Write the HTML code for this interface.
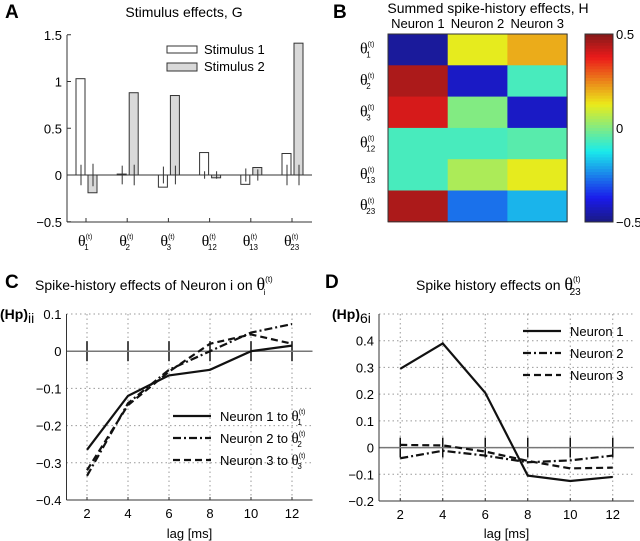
<!DOCTYPE html>
<html><head><meta charset="utf-8"><style>
body{margin:0;background:#fff}
svg{display:block;font-family:"Liberation Sans",sans-serif}
.th{font-family:"Liberation Serif",serif}
</style></head><body>
<svg id="s" width="640" height="541" viewBox="0 0 640 541" xmlns="http://www.w3.org/2000/svg">
<g>
<text x="5" y="18" font-size="19" font-weight="bold">A</text>
<text x="184" y="17" font-size="14" text-anchor="middle">Stimulus effects, G</text>
<g id="gA"></g>
<rect x="167" y="46" width="30" height="7" fill="#fff" stroke="#333"/>
<text x="204" y="54" font-size="13">Stimulus 1</text>
<rect x="167" y="63" width="30" height="8" fill="#d9d9d9" stroke="#333"/>
<text x="204" y="71" font-size="13">Stimulus 2</text>
</g>
<g>
<text x="333" y="18" font-size="19" font-weight="bold">B</text>
<text x="488" y="13" font-size="14" text-anchor="middle">Summed spike-history effects, H</text>
<g id="gB"></g>
</g>
<g>
<text x="5" y="288" font-size="19" font-weight="bold">C</text>
<text x="35" y="290" font-size="14">Spike-history effects of Neuron i on <tspan class="th" font-size="18">θ</tspan><tspan font-size="8" dy="-8">(t)</tspan><tspan font-size="8" dx="-9" dy="13">i</tspan></text>
<text x="0" y="319" font-size="14" font-weight="bold">(Hp)<tspan font-weight="normal" dy="4">ii</tspan></text>
<g id="gC"></g>
</g>
<g>
<text x="325" y="288" font-size="19" font-weight="bold">D</text>
<text x="416" y="290" font-size="14">Spike history effects on <tspan class="th" font-size="18">θ</tspan><tspan font-size="8" dy="-8">(t)</tspan><tspan font-size="10" dx="-11" dy="13">23</tspan></text>
<text x="332" y="319" font-size="14" font-weight="bold">(Hp)<tspan font-weight="normal" dy="4">6i</tspan></text>
<g id="gD"></g>
</g>
</svg>
<script>
// Panel A data
const aCats=["1","2","3","12","13","23"];
const aStim1=[1.03,0.01,-0.13,0.24,-0.1,0.23];
const aStim2=[-0.19,0.88,0.85,-0.03,0.08,1.41];
const aErr1=[0.11,0.1,0.09,0.04,0.07,0.11];
const aErr2=[0.12,0.11,0.1,0.04,0.06,0.11];
const aTicks=[1.5,1,0.5,0,-0.5];
const aTickLabels=["1.5","1","0.5","0","\u22120.5"];
// Panel B data
const bCols=["Neuron 1","Neuron 2","Neuron 3"];
const bRows=["1","2","3","12","13","23"];
const bVals=[[-0.47,0.12,0.2],[0.45,-0.42,-0.07],[0.4,0.0,-0.42],[-0.07,-0.07,-0.05],[-0.07,0.05,0.12],[0.45,-0.27,-0.19]];
// Panel C data
const lags=[2,4,6,8,10,12];
const cN1=[-0.265,-0.12,-0.065,-0.05,0,0.015];
const cN2=[-0.335,-0.14,-0.05,0,0.05,0.073];
const cN3=[-0.32,-0.145,-0.055,0.02,0.045,0.02];
const cTicks=[0.1,0,-0.1,-0.2,-0.3,-0.4];
// Panel D data
const dN1=[0.295,0.39,0.205,-0.105,-0.125,-0.11];
const dN2=[-0.04,-0.012,-0.03,-0.055,-0.048,-0.03];
const dN3=[0.01,0.008,-0.015,-0.05,-0.078,-0.075];
const dTicks=[0.4,0.3,0.2,0.1,0,-0.1,-0.2];

const NS="http://www.w3.org/2000/svg";
function mk(p,t,a){const e=document.createElementNS(NS,t);for(const k in a)e.setAttribute(k,a[k]);p.appendChild(e);return e;}
function fmt(v){return v===0?"0":(v<0?"\u2212":"")+String(Math.abs(v)).replace(/^0\./,"0.");}
function theta(p,x,y,sub,name){
  const t=mk(p,"text",{x:x,y:y,"font-size":14});
  
  
  t.innerHTML='<tspan font-family="Liberation Serif,serif" font-size="16">θ</tspan><tspan font-size="7" dy="-7">(t)</tspan><tspan font-size="8" dx="-8" dy="11">'+sub+'</tspan>';
}
// ---- Panel A
(function(){
  const g=document.getElementById('gA');
  const y=v=>175-v*93.5, xc=i=>86+i*41.2;
  mk(g,"line",{x1:67,y1:35,x2:67,y2:222,stroke:"#333"});
  mk(g,"line",{x1:67,y1:222,x2:312,y2:222,stroke:"#333"});
  aTicks.forEach((v,i)=>{
    mk(g,"line",{x1:67,y1:y(v),x2:71,y2:y(v),stroke:"#333"});
    const t=mk(g,"text",{x:62,y:y(v)+5,"font-size":13,"text-anchor":"end"});t.textContent=aTickLabels[i];
    
    
  });
  aCats.forEach((c,i)=>{
    const x=xc(i);
    mk(g,"line",{x1:x,y1:222,x2:x,y2:218,stroke:"#333"});
    theta(g,x-8,246,c,'a-x-tick-label');
    const b1=mk(g,"rect",{x:x-10,y:Math.min(y(0),y(aStim1[i])),width:9,height:Math.max(1,Math.abs(y(aStim1[i])-y(0))),fill:"#fff",stroke:"#333"});
    
    
    const b2=mk(g,"rect",{x:x+2,y:Math.min(y(0),y(aStim2[i])),width:9,height:Math.max(1,Math.abs(y(aStim2[i])-y(0))),fill:"#d9d9d9",stroke:"#333"});
    
    
    mk(g,"line",{x1:x-5,y1:y(aErr1[i]),x2:x-5,y2:y(-aErr1[i]),stroke:"#333"});
    mk(g,"line",{x1:x+7,y1:y(aErr2[i]),x2:x+7,y2:y(-aErr2[i]),stroke:"#333"});
  });
  mk(g,"line",{x1:67,y1:175,x2:312,y2:175,stroke:"#333"});
})();
// ---- Panel B
function jet(v){
  const t=(v+0.5); // 0..1
  const f=x=>Math.max(0,Math.min(1,x));
  const r=f(1.5-Math.abs(4*t-3)),gg=f(1.5-Math.abs(4*t-2)),b=f(1.5-Math.abs(4*t-1));
  const m=c=>Math.round((c*0.82+0.1)*255);
  return `rgb(${m(r)},${m(gg)},${m(b)})`;
}
(function(){
  const g=document.getElementById('gB');
  const x0=388,y0=34,cw=59.7,rh=31.3;
  bCols.forEach((c,j)=>{const t=mk(g,"text",{x:x0+cw*j+cw/2,y:28,"font-size":13,"text-anchor":"middle"});t.textContent=c;
    
    });
  bVals.forEach((row,i)=>{
    theta(g,360,y0+rh*i+rh/2+4,bRows[i],'b-row-label');
    row.forEach((v,j)=>{
      const r=mk(g,"rect",{x:x0+cw*j,y:y0+rh*i,width:cw+0.5,height:rh+0.5,fill:jet(v)});
      
      
    });
  });
  mk(g,"rect",{x:x0,y:y0,width:cw*3,height:rh*6,fill:"none",stroke:"#333"});
  const n=64,h=188/n;
  for(let k=0;k<n;k++){mk(g,"rect",{x:585,y:34+k*h,width:28,height:h+0.4,fill:jet(0.5-(k+0.5)/n)});}
  mk(g,"rect",{x:585,y:34,width:28,height:188,fill:"none",stroke:"#333"});
  [[0.5,"0.5"],[0,"0"],[-0.5,"\u22120.5"]].forEach(([v,l])=>{const yy=128-v*188;const t=mk(g,"text",{x:616,y:yy+5,"font-size":13});t.textContent=l;
    
    });
})();
// ---- Line panels
function linePanel(id,X0,X1,Ytop,Ybot,vmax,vmin,ticks,series,legend){
  const g=document.getElementById(id);
  const xs=v=>X0+(v-1)/12*(X1-X0), ys=v=>Ytop+(vmax-v)/(vmax-vmin)*(Ybot-Ytop);
  ticks.forEach(v=>{
    if(v!==vmin)mk(g,"line",{x1:X0,y1:ys(v),x2:X1,y2:ys(v),stroke:"#999","stroke-dasharray":"1.5 3"});
    const t=mk(g,"text",{x:X0-5,y:ys(v)+5,"font-size":13,"text-anchor":"end"});t.textContent=fmt(v);
    
    
  });
  if(vmax>Math.max(...ticks))mk(g,"line",{x1:X0,y1:Ytop,x2:X1,y2:Ytop,stroke:"#999","stroke-dasharray":"1.5 3"});
  lags.forEach(l=>{
    mk(g,"line",{x1:xs(l),y1:Ytop,x2:xs(l),y2:Ybot,stroke:"#999","stroke-dasharray":"1.5 3"});
    mk(g,"line",{x1:xs(l),y1:ys(0)-10,x2:xs(l),y2:ys(0)+10,stroke:"#111","stroke-width":1.5});
    mk(g,"line",{x1:xs(l),y1:Ybot,x2:xs(l),y2:Ybot-3,stroke:"#333"});
    const t=mk(g,"text",{x:xs(l),y:Ybot+18,"font-size":13,"text-anchor":"middle"});t.textContent=l;
    
    
  });
  mk(g,"line",{x1:X0,y1:ys(0),x2:X1,y2:ys(0),stroke:"#777","stroke-width":1.5});
  mk(g,"line",{x1:X0,y1:Ytop,x2:X0,y2:Ybot,stroke:"#333"});
  mk(g,"line",{x1:X0,y1:Ybot,x2:X1,y2:Ybot,stroke:"#333"});
  const xt=mk(g,"text",{x:(X0+X1)/2,y:538,"font-size":13,"text-anchor":"middle"});xt.textContent="lag [ms]";
  
  
  const styles=["none","8 3 2 3","7 4"];
  series.forEach((s,k)=>{
    const p=mk(g,"polyline",{points:s.map((v,i)=>xs(lags[i])+","+ys(v)).join(" "),fill:"none",stroke:"#111","stroke-width":2.2,"stroke-dasharray":styles[k]});
    
    
  });
  legend.items.forEach((txt,k)=>{
    const yy=legend.y+k*legend.dy;
    mk(g,"line",{x1:legend.x,y1:yy,x2:legend.x+38,y2:yy,stroke:"#111","stroke-width":2.2,"stroke-dasharray":styles[k]});
    const t=mk(g,"text",{x:legend.x+47,y:yy+5,"font-size":13});t.innerHTML=txt;
    
    
  });
}
const th=n=>' <tspan font-family="Liberation Serif,serif" font-size="15">θ</tspan><tspan font-size="7" dy="-7">(t)</tspan><tspan font-size="8" dx="-8" dy="11">'+n+'</tspan>';
linePanel('gC',66.5,312.5,314,500,0.1,-0.4,cTicks,[cN1,cN2,cN3],{x:173,y:416,dy:22,items:["Neuron 1 to"+th(1),"Neuron 2 to"+th(2),"Neuron 3 to"+th(3)]});
linePanel('gD',379,634,314,501,0.5,-0.2,dTicks,[dN1,dN2,dN3],{x:523,y:331,dy:22,items:["Neuron 1","Neuron 2","Neuron 3"]});
</script>
</body></html>
